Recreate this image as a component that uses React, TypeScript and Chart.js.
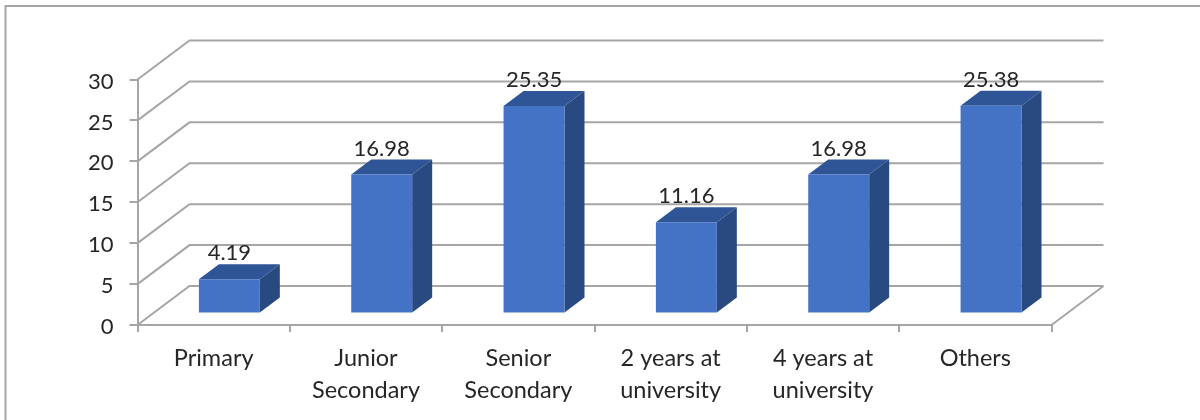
import React, { useEffect, useRef } from "react";
import { Chart, registerables } from "chart.js";

Chart.register(...registerables);

const categories = [
  "Primary",
  ["Junior", "Secondary"],
  ["Senior", "Secondary"],
  ["2 years at", "university"],
  ["4 years at", "university"],
  "Others",
];
const values = [4.19, 16.98, 25.35, 11.16, 16.98, 25.38];
const yTicks = [0, 5, 10, 15, 20, 25, 30];

const FONT = "Lato";
const LABEL_SIZE = 22;
const X_SIZE = 23.5;
const TEXT = "#262626";
const LINE = "#a6a6a6";
const FRONT = "#4472c4";
const TOP = "#2f5597";
const SIDE = "#294a80";
// projection of the floor/back wall and of the bar position/depth
const WALL_DX = 52;
const WALL_DY = -39;
const BAR_DX = 15.7;
const BAR_DY = -11.5;
const DEPTH_DX = 20;
const DEPTH_DY = -15;

const box3d = {
  id: "box3d",
  beforeDatasetsDraw(chart: any) {
    const { ctx, chartArea, scales } = chart;
    const { left, right } = chartArea;
    const y = scales.y;
    ctx.save();
    ctx.strokeStyle = LINE;
    ctx.lineWidth = 2;
    // outer frame
    ctx.beginPath();
    ctx.moveTo(5.5, 420);
    ctx.lineTo(5.5, 6);
    ctx.lineTo(1200, 6);
    ctx.stroke();
    // walls
    yTicks.forEach((t) => {
      const py = y.getPixelForValue(t);
      ctx.beginPath();
      ctx.moveTo(left, py);
      ctx.lineTo(left + WALL_DX, py + WALL_DY);
      ctx.lineTo(right + WALL_DX, py + WALL_DY);
      ctx.stroke();
    });
    // floor right edge
    const p0 = y.getPixelForValue(0);
    ctx.beginPath();
    ctx.moveTo(right, p0);
    ctx.lineTo(right + WALL_DX, p0 + WALL_DY);
    ctx.stroke();

    // bar top and side faces
    const meta = chart.getDatasetMeta(0);
    meta.data.forEach((bar: any) => {
      const hw = bar.width / 2;
      const x0 = bar.x - hw + BAR_DX;
      const x1 = bar.x + hw + BAR_DX;
      const yt = bar.y + BAR_DY;
      const yb = bar.base + BAR_DY;
      ctx.fillStyle = TOP;
      ctx.beginPath();
      ctx.moveTo(x0, yt);
      ctx.lineTo(x0 + DEPTH_DX, yt + DEPTH_DY);
      ctx.lineTo(x1 + DEPTH_DX, yt + DEPTH_DY);
      ctx.lineTo(x1, yt);
      ctx.closePath();
      ctx.fill();
      ctx.fillStyle = SIDE;
      ctx.beginPath();
      ctx.moveTo(x1, yt);
      ctx.lineTo(x1 + DEPTH_DX, yt + DEPTH_DY);
      ctx.lineTo(x1 + DEPTH_DX, yb + DEPTH_DY);
      ctx.lineTo(x1, yb);
      ctx.closePath();
      ctx.fill();
    });
    ctx.restore();
    ctx.save();
    ctx.translate(BAR_DX, BAR_DY);
  },
  afterDatasetsDraw(chart: any) {
    const { ctx } = chart;
    ctx.restore();
    ctx.save();
    ctx.fillStyle = TEXT;
    ctx.font = `${LABEL_SIZE}px ${FONT}`;
    ctx.textAlign = "center";
    ctx.textBaseline = "middle";
    chart.getDatasetMeta(0).data.forEach((bar: any, i: number) => {
      ctx.fillText(String(values[i]), bar.x + BAR_DX, bar.y + BAR_DY - 26);
    });
    ctx.restore();
  },
};

export default function App() {
  const ref = useRef<HTMLCanvasElement>(null);
  useEffect(() => {
    const chart = new Chart(ref.current!, {
      type: "bar",
      data: {
        labels: categories as any,
        datasets: [
          {
            data: values,
            backgroundColor: FRONT,
            borderWidth: 0,
            barPercentage: 0.4,
            categoryPercentage: 1,
            clip: false as any,
          },
        ],
      },
      options: {
        responsive: false,
        animation: false,
        devicePixelRatio: 1,
        layout: { padding: { top: 79.5, right: 148.5, left: 0, bottom: 0 } },
        plugins: { legend: { display: false }, tooltip: { enabled: false } },
        scales: {
          x: {
            grid: {
              drawOnChartArea: false,
              drawTicks: true,
              tickLength: 7,
              color: LINE,
              lineWidth: 2,
            },
            border: { color: LINE, width: 2 },
            ticks: {
              color: TEXT,
              padding: 10,
              maxRotation: 0,
              autoSkip: false,
              font: { family: FONT, size: X_SIZE, lineHeight: 1.36 },
            },
            afterFit(axis: any) {
              axis.height = 95;
            },
          },
          y: {
            min: 0,
            max: 30,
            afterBuildTicks(axis: any) {
              axis.ticks = yTicks.map((value) => ({ value }));
            },
            grid: {
              drawOnChartArea: false,
              drawTicks: true,
              tickLength: 8,
              color: LINE,
              lineWidth: 2,
            },
            border: { color: LINE, width: 2 },
            ticks: {
              color: TEXT,
              padding: 16,
              labelOffset: 2,
              font: { family: FONT, size: LABEL_SIZE },
            },
            afterFit(axis: any) {
              axis.width = 137.5;
            },
          },
        },
      },
      plugins: [box3d],
    });
    return () => chart.destroy();
  }, []);
  return (
    <div style={{ position: "absolute", left: 0, top: 0, width: 1200, height: 420, background: "#fff" }}>
      <canvas ref={ref} width={1200} height={420} style={{ display: "block" }} />
    </div>
  );
}
